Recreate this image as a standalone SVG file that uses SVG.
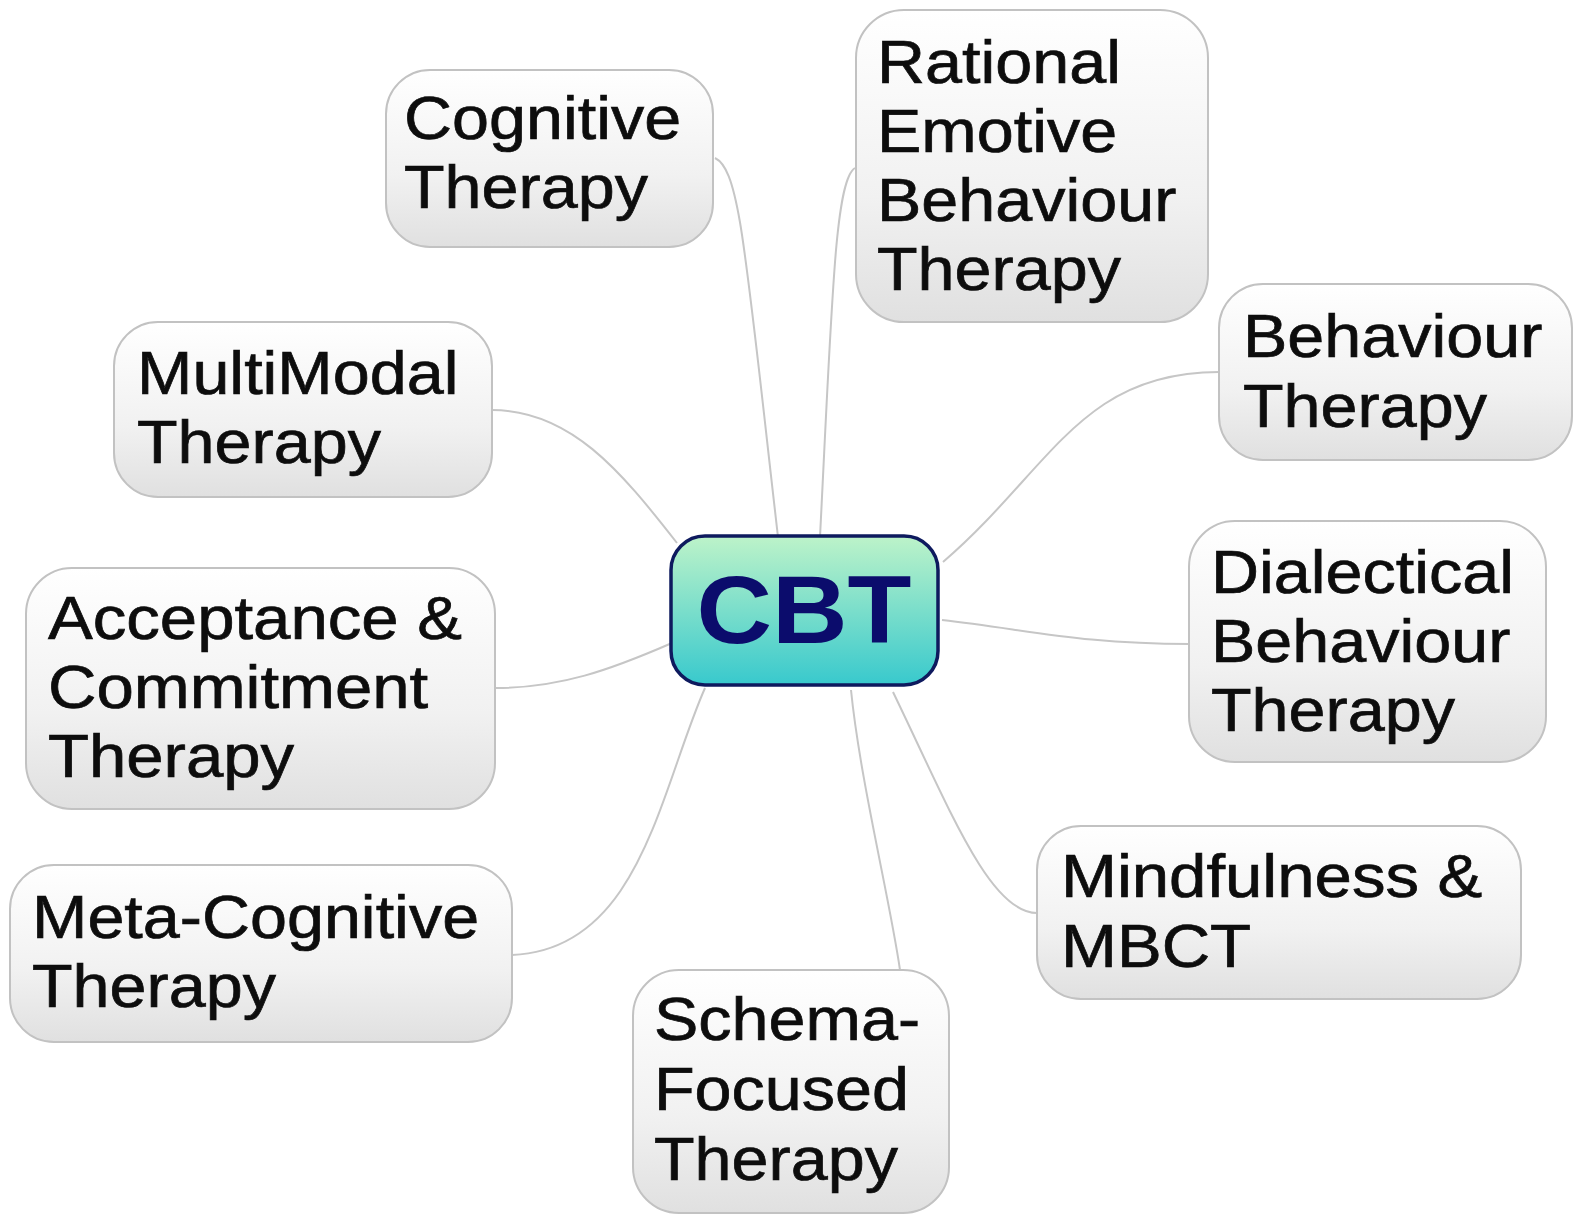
<svg xmlns="http://www.w3.org/2000/svg" width="1576" height="1225" viewBox="0 0 1576 1225">
<defs>
<linearGradient id="boxg" x1="0" y1="0" x2="0" y2="1">
<stop offset="0" stop-color="#ffffff"/>
<stop offset="0.6" stop-color="#f1f1f1"/>
<stop offset="1" stop-color="#e0e0e0"/>
</linearGradient>
<linearGradient id="cbtg" x1="0" y1="0" x2="0" y2="1">
<stop offset="0" stop-color="#bdf3c9"/>
<stop offset="1" stop-color="#38c9cd"/>
</linearGradient>
</defs>
<style>
.box{fill:url(#boxg);stroke:#c2c2c2;stroke-width:2}
.lbl{font-family:"Liberation Sans",Arial,sans-serif;font-size:61px;fill:#0d0d0d;stroke:#0d0d0d;stroke-width:0.7}
.conn{fill:none;stroke:#c6c6c6;stroke-width:2}
.cbt{fill:url(#cbtg);stroke:#0e1a5e;stroke-width:3.5}
.cbtt{font-family:"Liberation Sans",Arial,sans-serif;font-size:96px;font-weight:bold;fill:#0b0c6c}
</style>
<rect width="1576" height="1225" fill="#ffffff"/>
<g id="connectors">
<path class="conn" d="M715,158 C740,170 745,250 778,537"/>
<path class="conn" d="M855,168 C835,180 832,300 820,537"/>
<path class="conn" d="M943,562 C1050,470 1080,372 1219,372"/>
<path class="conn" d="M942,620 C1030,630 1080,644 1190,644"/>
<path class="conn" d="M893,692 C950,810 990,913 1037,913"/>
<path class="conn" d="M851,690 C860,780 890,900 900,970"/>
<path class="conn" d="M705,688 C660,790 640,950 512,955"/>
<path class="conn" d="M495,688 C560,688 610,670 672,643"/>
<path class="conn" d="M492,410 C570,410 620,470 677,543"/>
</g>
<g id="cognitive">
<rect class="box" x="386" y="70" width="327" height="177" rx="44"/>
<text class="lbl" transform="translate(404 139) scale(1.09 1)"><tspan x="0" y="0">Cognitive</tspan><tspan x="0" y="69">Therapy</tspan></text>
</g>
<g id="rebt">
<rect class="box" x="856" y="10" width="352" height="312" rx="48"/>
<text class="lbl" transform="translate(877 83) scale(1.09 1)"><tspan x="0" y="0">Rational</tspan><tspan x="0" y="69">Emotive</tspan><tspan x="0" y="138">Behaviour</tspan><tspan x="0" y="207">Therapy</tspan></text>
</g>
<g id="behaviour">
<rect class="box" x="1219" y="284" width="353" height="176" rx="44"/>
<text class="lbl" transform="translate(1243 357) scale(1.09 1)"><tspan x="0" y="0">Behaviour</tspan><tspan x="0" y="70">Therapy</tspan></text>
</g>
<g id="dialectical">
<rect class="box" x="1189" y="521" width="357" height="241" rx="46"/>
<text class="lbl" transform="translate(1211 593) scale(1.09 1)"><tspan x="0" y="0">Dialectical</tspan><tspan x="0" y="69">Behaviour</tspan><tspan x="0" y="138">Therapy</tspan></text>
</g>
<g id="mindfulness">
<rect class="box" x="1037" y="826" width="484" height="173" rx="44"/>
<text class="lbl" transform="translate(1061 897) scale(1.1 1)"><tspan x="0" y="0">Mindfulness &amp;</tspan><tspan x="0" y="70">MBCT</tspan></text>
</g>
<g id="schema">
<rect class="box" x="633" y="970" width="316" height="243" rx="46"/>
<text class="lbl" transform="translate(654 1040) scale(1.09 1)"><tspan x="0" y="0">Schema-</tspan><tspan x="0" y="70">Focused</tspan><tspan x="0" y="140">Therapy</tspan></text>
</g>
<g id="metacognitive">
<rect class="box" x="10" y="865" width="502" height="177" rx="44"/>
<text class="lbl" transform="translate(32 938) scale(1.09 1)"><tspan x="0" y="0">Meta-Cognitive</tspan><tspan x="0" y="69">Therapy</tspan></text>
</g>
<g id="acceptance">
<rect class="box" x="26" y="568" width="469" height="241" rx="46"/>
<text class="lbl" transform="translate(48 639) scale(1.1 1)"><tspan x="0" y="0">Acceptance &amp;</tspan><tspan x="0" y="69">Commitment</tspan><tspan x="0" y="138">Therapy</tspan></text>
</g>
<g id="multimodal">
<rect class="box" x="114" y="322" width="378" height="175" rx="44"/>
<text class="lbl" transform="translate(137 394) scale(1.09 1)"><tspan x="0" y="0">MultiModal</tspan><tspan x="0" y="69">Therapy</tspan></text>
</g>
<g id="cbt">
<rect class="cbt" x="671" y="536" width="267" height="149" rx="34"/>
<text class="cbtt" text-anchor="middle" transform="translate(804 643) scale(1.09 1)">CBT</text>
</g>
</svg>
